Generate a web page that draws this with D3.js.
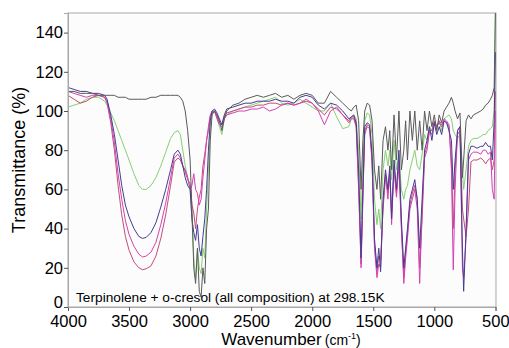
<!DOCTYPE html>
<html><head><meta charset="utf-8">
<script src="https://cdn.jsdelivr.net/npm/d3@7"></script>
<style>body{margin:0;background:#fff}svg{display:block}text{font-family:"Liberation Sans",Arial,sans-serif}</style>
</head><body><svg id="c" width="509" height="348"></svg>
<script>
const wavenumbers=[4000,3950,3900,3850,3800,3750,3700,3680,3650,3620,3590,3560,3530,3500,3460,3420,3390,3360,3320,3280,3240,3200,3160,3130,3100,3080,3060,3040,3020,3000,2985,2970,2955,2940,2925,2910,2895,2880,2865,2850,2835,2820,2800,2780,2760,2740,2720,2700,2650,2600,2550,2500,2450,2400,2350,2300,2250,2200,2150,2100,2050,2000,1950,1900,1850,1800,1750,1700,1680,1660,1640,1620,1600,1585,1570,1550,1530,1510,1490,1470,1455,1440,1420,1400,1380,1365,1350,1330,1310,1290,1270,1250,1235,1220,1200,1180,1160,1140,1120,1100,1080,1060,1040,1020,1000,980,960,940,920,900,880,860,845,830,810,790,770,760,740,720,700,680,650,620,600,580,560,540,525,510,500];
const greySeries=[110,110,109,109,109,108,108,108,108,108,107,107,107,106,106,106,106,106,107,107,108,108,108,108,108,107,105,100,90,75,50,20,12,30,8,5,20,12,40,50,85,98,100,98,95,90,96,100,103,104,106,107,108,107,108,109,107,108,106,108,109,108,104,104,110,107,104,101,100,102,103,95,60,85,100,104,103,95,70,60,72,55,85,92,80,90,70,98,75,100,70,80,95,75,100,85,100,80,95,80,100,90,100,92,98,90,98,94,100,102,104,107,104,100,96,99,66,75,95,98,96,98,99,100,101,103,104,106,108,112,150];
const greenSeries=[102,103,104,106,107,107,105,103,99,95,90,85,80,75,68,62,60,60,62,66,72,79,86,89,90,88,80,72,66,60,45,25,14,30,20,17,30,25,50,70,92,99,100,97,92,88,96,98,100,101,102,103,104,105,106,107,104,103,104,106,104,102,100,100,104,97,91,92,96,98,96,80,45,75,95,99,98,88,55,42,50,40,70,80,72,80,65,85,70,78,60,55,60,62,70,75,80,72,70,78,88,85,92,90,94,92,95,90,96,97,98,96,90,88,86,88,70,60,70,82,85,86,86,87,88,88,90,91,92,100,150];
const navySeries=[112,111,110,110,109,109,108,106,98,88,75,62,52,46,40,36,35,35.5,38,43,51,60,70,78,80,78,72,66,62,60,45,38,34,42,30,26,36,45,60,80,95,100,101,99,96,93,98,101,102,103,104,104,105,105,105,106,105,105,104,107,108,107,103,101,104,103,100,96,97,98,94,70,25,60,92,94,93,78,35,20,30,18,55,70,60,72,45,75,60,80,45,20,30,40,55,60,65,55,30,55,80,85,92,85,94,88,92,88,95,94,90,85,60,75,90,92,30,8,40,78,82,82,81,82,82,84,82,82,75,95,130];
const magentaSeries=[110,109,108,107,108,108,107,105,96,84,68,55,44,37,31,27,25.5,26,28,33,42,53,66,76,78,76,72,70,66,60,62,68,60,58,52,55,66,75,85,92,98,100,100,96,93,92,96,98,99,100,100,101,101,102,100,101,103,104,103,104,106,104,100,93,100,102,98,95,97,97,93,62,20,55,90,93,92,75,30,15,22,20,52,68,55,70,42,72,56,75,42,12,25,35,50,55,60,50,12,50,78,82,90,88,94,92,95,93,96,95,93,70,19,60,90,92,20,15,35,75,78,79,79,78,80,80,78,79,60,55,100];
const crimsonSeries=[108,106,104,105,107,108,107,104,94,80,62,47,36,29,23,20,19,19.5,21,26,35,47,62,74,76,75,72,69,65,63,52,48,40,50,56,60,72,78,85,90,97,99,100,97,94,93,97,99,100,101,102,102,103,103,104,104,103,104,103,104,105,104,101,98,102,101,98,94,96,96,92,60,22,58,88,92,91,74,32,18,26,24,50,66,58,68,48,70,58,72,40,15,28,38,52,58,62,55,20,45,76,80,90,90,95,92,94,92,95,94,92,75,40,70,88,90,50,45,36,50,74,75,75,76,75,73,75,76,70,75,110];
const yTicks=[0,20,40,60,80,100,120,140];
const xTicks=[4000,3500,3000,2500,2000,1500,1000,500];
const seriesList=[
 {name:"green",values:greenSeries,color:"#86cf72"},
 {name:"crimson",values:crimsonSeries,color:"#c24d78"},
 {name:"magenta",values:magentaSeries,color:"#d440b4"},
 {name:"navy",values:navySeries,color:"#443c90"},
 {name:"grey",values:greySeries,color:"#5a5a5a"}
];
const svg=d3.select("#c");
const m={l:68,r:496,t:13,b:307};
const x=d3.scaleLinear().domain([4000,495]).range([m.l,m.r]);
const y=d3.scaleLinear().domain([0,150]).range([m.b,m.t]);
svg.append("rect").attr("x",m.l).attr("y",m.t).attr("width",m.r-m.l).attr("height",m.b-m.t).attr("fill","#fcfcfc").attr("stroke","#a8a8a8").attr("stroke-width",1);
svg.append("clipPath").attr("id","pc").append("rect").attr("x",m.l).attr("y",m.t).attr("width",m.r-m.l).attr("height",m.b-m.t);
const line=d3.line().x((d,i)=>x(wavenumbers[i])).y(d=>y(d));
const g=svg.append("g").attr("clip-path","url(#pc)");
seriesList.forEach(s=>{
 g.append("path").datum(s.values).attr("d",line).attr("fill","none").attr("stroke",s.color).attr("stroke-width",1).attr("stroke-linejoin","round");
});
const xa=svg.append("g").attr("transform",`translate(0,${m.b})`).call(d3.axisBottom(x).tickValues(xTicks).tickSize(4).tickFormat(d3.format("d")));
const ya=svg.append("g").attr("transform",`translate(${m.l},0)`).call(d3.axisLeft(y).tickValues(yTicks).tickSize(4));
[xa,ya].forEach(a=>{a.select(".domain").attr("stroke","#a8a8a8");a.selectAll(".tick line").attr("stroke","#555");a.selectAll("text").attr("font-size",16.5).attr("fill","#000").attr("font-family","Liberation Sans, Arial, sans-serif");});
xa.selectAll("text").attr("y",7).attr("dy","0.78em");
ya.selectAll("text").attr("x",-5);
ya.selectAll(".tick").filter(d=>d===0).select("text").attr("dy","0.02em");
svg.append("text").attr("transform","translate(25,160) rotate(-90)").attr("text-anchor","middle").attr("font-size",18).attr("fill","#000").text("Transmittance (%)");
const xt=svg.append("text").attr("x",291).attr("y",345).attr("text-anchor","middle").attr("fill","#000");
xt.append("tspan").attr("font-size",17).text("Wavenumber");
xt.append("tspan").attr("font-size",14).attr("dx",3).text("(cm");
xt.append("tspan").attr("font-size",9).attr("dy",-6).text("-1");
xt.append("tspan").attr("font-size",14).attr("dy",6).text(")");
svg.append("text").attr("x",76).attr("y",302).attr("font-size",13.7).attr("fill","#000").text("Terpinolene + o-cresol (all composition) at 298.15K");
</script></body></html>
